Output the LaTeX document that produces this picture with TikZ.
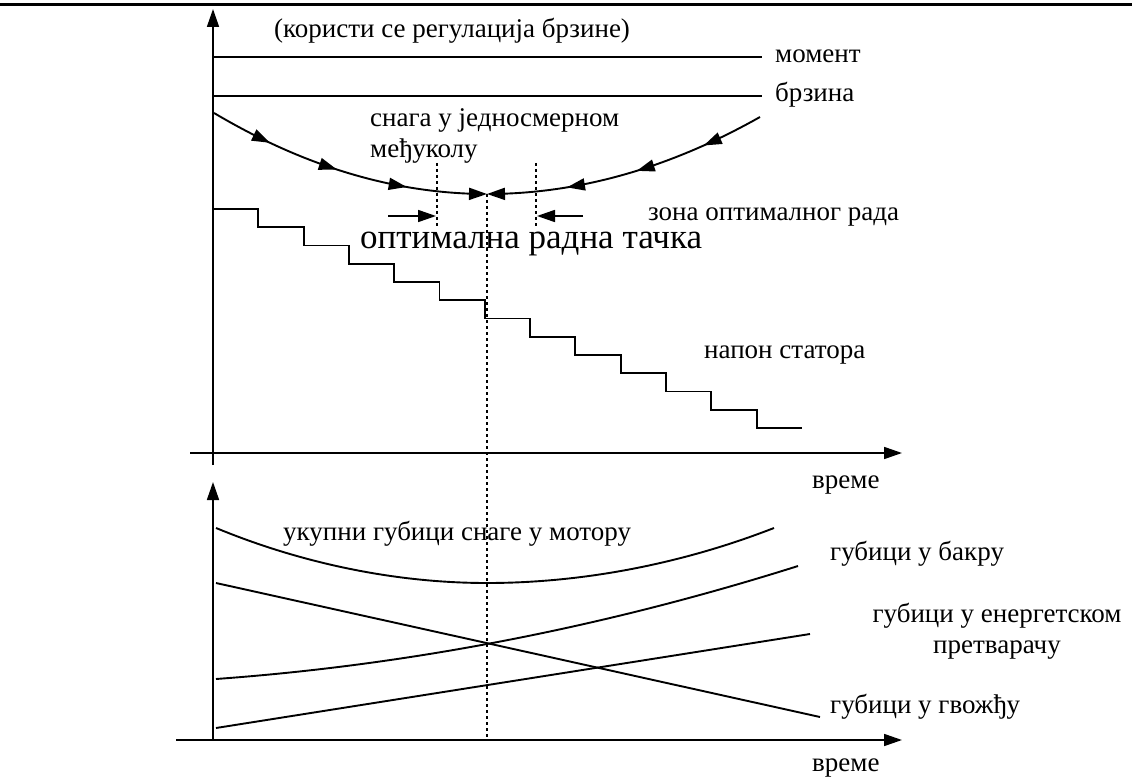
\documentclass[tikz,border=0pt]{standalone}
\usepackage{fontspec}
\setmainfont{Liberation Serif}
\usetikzlibrary{arrows.meta,decorations.markings}
\newcommand{\labfont}{\fontsize{27}{32}\selectfont}
\newcommand{\bigfont}{\fontsize{35}{42}\selectfont}

\begin{document}
\begin{tikzpicture}[x=1pt,y=-1pt,
	tip/.style={-{Triangle[length=18pt,width=12pt]}},
	axis/.style={line width=1.7pt, tip},
	lbl/.style={anchor=base west, inner sep=0pt, font=\labfont},
	flow/.style={line width=1.9pt, tip, postaction={decorate},
		decoration={markings,
			mark=at position 0.22 with {\arrow{Triangle[length=18pt,width=12pt]}},
			mark=at position 0.47 with {\arrow{Triangle[length=18pt,width=12pt]}},
			mark=at position 0.72 with {\arrow{Triangle[length=18pt,width=12pt]}}}},
	loss/.style={line width=1.9pt}]
	\useasboundingbox (0,0) rectangle (1132,778);

	\draw[line width=3pt] (0,5) to (1132,5);

	% upper diagram
	\draw[axis] (213,465) to (213,9);
	\draw[axis] (190,453) to (902,453);

	\draw[line width=1.9pt] (213,57) to (762,57);
	\draw[line width=1.9pt] (213,96) to (762,96);

	\draw[flow] plot[domain=214:487, samples=40] (\x, {194-10.87*((\x-487)/100)^2});
	\draw[flow] plot[domain=760:487, samples=40] (\x, {194-10.33*((\x-487)/100)^2});

	\draw[line width=1.9pt] (213,209) \foreach \i in {1,...,12} { -- ++(45.3,0) -- ++(0,18.25) } -- ++(45.3,0);

	\draw[line width=1.8pt, dash pattern=on 3pt off 3pt] (437,163) -- (437,227) (536,163) -- (536,227);
	\draw[line width=1.8pt, dash pattern=on 3pt off 3pt] (487,194) -- (487,737);
	\draw[line width=1.7pt, tip] (388,216) to (436,216);
	\draw[line width=1.7pt, tip] (583,216) to (537,216);

	\draw (274,38) node (note) [lbl] {(користи се регулација брзине)};
	\draw (775,63) node (mom) [lbl] {момент};
	\draw (775,102) node (brz) [lbl] {брзина};
	\draw (370,127) node (dc) [lbl] {снага у једносмерном};
	\draw (370,158) node (dclink) [lbl] {међуколу};
	\draw (648,220) node (zone) [lbl] {зона оптималног рада};
	\draw (360,248) node (opt) [lbl, font=\bigfont] {оптимална радна тачка};
	\draw (704,358) node (stat) [lbl] {напон статора};
	\draw (812,488) node (t1) [lbl] {време};

	% lower diagram
	\draw[axis] (213,740) to (213,482);
	\draw[axis] (176,740) to (902,740);

	\draw[loss] (216,528) parabola bend (487,583) (774,528);
	\draw[loss] plot[domain=216:798, samples=50] (\x, {679-7.25*((\x-216)/100)-2.09*((\x-216)/100)^2});
	\draw[loss] (216,583) to (820,717);
	\draw[loss] (216,728) to (810,634);

	\draw (283,540) node (tot) [lbl] {укупни губици снаге у мотору};
	\draw (830,560) node (cu) [lbl] {губици у бакру};
	\draw (997,622) node (conv) [lbl, anchor=base] {губици у енергетском};
	\draw (997,653) node (conv2) [lbl, anchor=base] {претварачу};
	\draw (830,713) node (fe) [lbl] {губици у гвожђу};
	\draw (812,771) node (t2) [lbl] {време};
\end{tikzpicture}
\end{document}
